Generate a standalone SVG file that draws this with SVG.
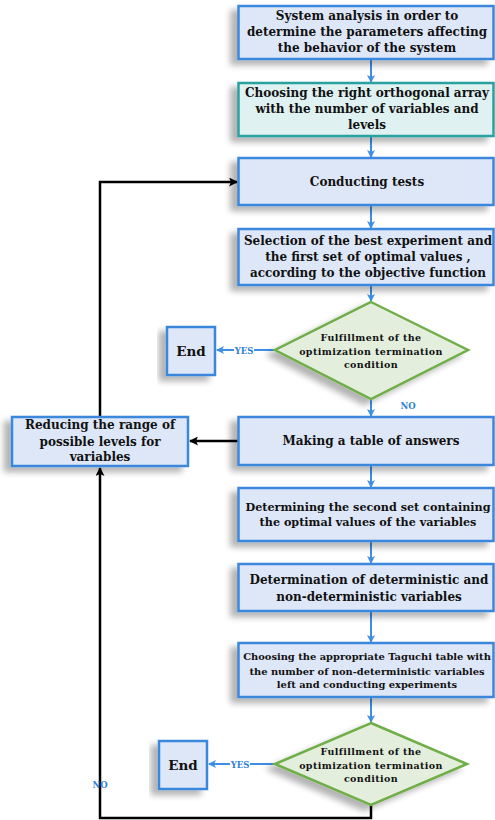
<svg xmlns="http://www.w3.org/2000/svg" width="495" height="820" viewBox="0 0 495 820">
<style>
.box{fill:#dee7f8;stroke:#3a87dc;stroke-width:2.5}
.teal{fill:#dff1f1;stroke:#2aa1a1;stroke-width:2.5}
.dia{fill:#e3efdc;stroke:#6fae48;stroke-width:2.5}
.t{font-family:"DejaVu Serif",serif;font-weight:bold;font-size:12px;fill:#111;text-anchor:middle}
.m{font-size:11.2px}
.s{font-size:9.9px}
.d{font-size:9.5px;letter-spacing:0.4px}
.e{font-size:13.5px}
.lbl{font-family:"DejaVu Serif",serif;font-weight:bold;font-size:8.5px;fill:#2f80d6;text-anchor:middle}
.ba{stroke:#3d8ee6;stroke-width:2;fill:none;marker-end:url(#bh)}
.ka{stroke:#000;stroke-width:2.5;fill:none;marker-end:url(#kh)}
</style>
<defs>
<marker id="bh" markerWidth="8" markerHeight="8" refX="7" refY="4" orient="auto" markerUnits="userSpaceOnUse"><path d="M0,0 L8,4 L0,8 L2,4 Z" fill="#3d8ee6"/></marker>
<marker id="kh" markerWidth="9" markerHeight="9" refX="8" refY="4.5" orient="auto" markerUnits="userSpaceOnUse"><path d="M0,0 L9,4.5 L0,9 L2,4.5 Z" fill="#000"/></marker>
<filter id="sh" x="-20%" y="-20%" width="140%" height="160%"><feGaussianBlur in="SourceAlpha" stdDeviation="3"/><feOffset dx="-7" dy="5" result="b"/><feComponentTransfer><feFuncA type="linear" slope="0.3"/></feComponentTransfer><feMerge><feMergeNode/><feMergeNode in="SourceGraphic"/></feMerge></filter>
</defs>
<rect width="495" height="820" fill="#fff"/>
<g id="connectors">
<line class="ba" x1="371" y1="60" x2="371" y2="82"/>
<line class="ba" x1="371" y1="137" x2="371" y2="157"/>
<line class="ba" x1="371" y1="206" x2="371" y2="228"/>
<line class="ba" x1="371" y1="286" x2="371" y2="301"/>
<line class="ba" x1="371" y1="400" x2="371" y2="416"/>
<line class="ba" x1="371" y1="466" x2="371" y2="487"/>
<line class="ba" x1="371" y1="542" x2="371" y2="563"/>
<line class="ba" x1="371" y1="612" x2="371" y2="642"/>
<line class="ba" x1="371" y1="698" x2="371" y2="722"/>
<line class="ba" x1="275" y1="350" x2="217" y2="350"/>
<line class="ba" x1="275" y1="764" x2="209" y2="764"/>
<line class="ka" x1="238" y1="441" x2="190" y2="441"/>
<polyline class="ka" points="100,417 100,182 237,182"/>
<polyline class="ka" points="371,805 371,818 100,818 100,468"/>
<rect x="234" y="345" width="20" height="10" fill="#fff"/>
<text class="lbl" x="244" y="353.5">YES</text>
<text class="lbl" x="408" y="409">NO</text>
<rect x="230" y="759" width="20" height="10" fill="#fff"/>
<text class="lbl" x="240" y="767.5">YES</text>
<text class="lbl" x="100" y="788">NO</text>
</g>
<g id="n1" filter="url(#sh)"><rect class="box" x="238.5" y="6" width="255" height="53"/></g>
<g id="n1t"><text class="t" x="367" y="20">System analysis in order to</text><text class="t" x="367" y="36">determine the parameters affecting</text><text class="t" x="367" y="52">the behavior of the system</text></g>
<g id="n2" filter="url(#sh)"><rect class="teal" x="238.5" y="83" width="255" height="53"/></g>
<g id="n2t"><text class="t" x="367" y="97">Choosing the right orthogonal array</text><text class="t" x="367" y="113">with the number of variables and</text><text class="t" x="367" y="129">levels</text></g>
<g id="n3" filter="url(#sh)"><rect class="box" x="238.5" y="158" width="255" height="47"/></g>
<g id="n3t"><text class="t" x="367" y="186">Conducting tests</text></g>
<g id="n4" filter="url(#sh)"><rect class="box" x="238.5" y="229" width="255" height="56"/></g>
<g id="n4t"><text class="t" x="368" y="245">Selection of the best experiment and</text><text class="t" x="368" y="261">the first set of optimal values ,</text><text class="t" x="368" y="277">according to the objective function</text></g>
<g id="d1" filter="url(#sh)"><polygon class="dia" points="371,302 468,350 371,399 275,350"/></g>
<g id="d1t"><text class="t d" x="371" y="341">Fulfillment of the</text><text class="t d" x="371" y="355">optimization termination</text><text class="t d" x="371" y="368">condition</text></g>
<g id="end1" filter="url(#sh)"><rect class="box" x="167" y="327" width="48" height="48"/></g>
<g id="end1t"><text class="t e" x="191" y="356">End</text></g>
<g id="n5" filter="url(#sh)"><rect class="box" x="238.5" y="417" width="255" height="48"/></g>
<g id="n5t"><text class="t" x="371" y="445">Making a table of answers</text></g>
<g id="r" filter="url(#sh)"><rect class="box" x="12" y="417" width="176" height="49"/></g>
<g id="rt"><text class="t" x="100" y="429">Reducing the range of</text><text class="t" x="100" y="446">possible levels for</text><text class="t" x="100" y="461">variables</text></g>
<g id="n6" filter="url(#sh)"><rect class="box" x="238.5" y="488" width="255" height="53"/></g>
<g id="n6t"><text class="t m" x="368" y="511">Determining the second set containing</text><text class="t m" x="368" y="526">the optimal values of the variables</text></g>
<g id="n7" filter="url(#sh)"><rect class="box" x="238.5" y="564" width="255" height="47"/></g>
<g id="n7t"><text class="t" x="369" y="584">Determination of deterministic and</text><text class="t" x="369" y="601">non-deterministic variables</text></g>
<g id="n8" filter="url(#sh)"><rect class="box" x="238.5" y="643" width="255" height="54"/></g>
<g id="n8t"><text class="t s" x="367" y="660">Choosing the appropriate Taguchi table with</text><text class="t s" x="367" y="675">the number of non-deterministic variables</text><text class="t s" x="367" y="688">left and conducting experiments</text></g>
<g id="d2" filter="url(#sh)"><polygon class="dia" points="371,723 467,764 371,805 275,764"/></g>
<g id="d2t"><text class="t d" x="371" y="755">Fulfillment of the</text><text class="t d" x="371" y="769">optimization termination</text><text class="t d" x="371" y="782">condition</text></g>
<g id="end2" filter="url(#sh)"><rect class="box" x="159" y="741" width="48" height="48"/></g>
<g id="end2t"><text class="t e" x="183" y="770">End</text></g>
</svg>
